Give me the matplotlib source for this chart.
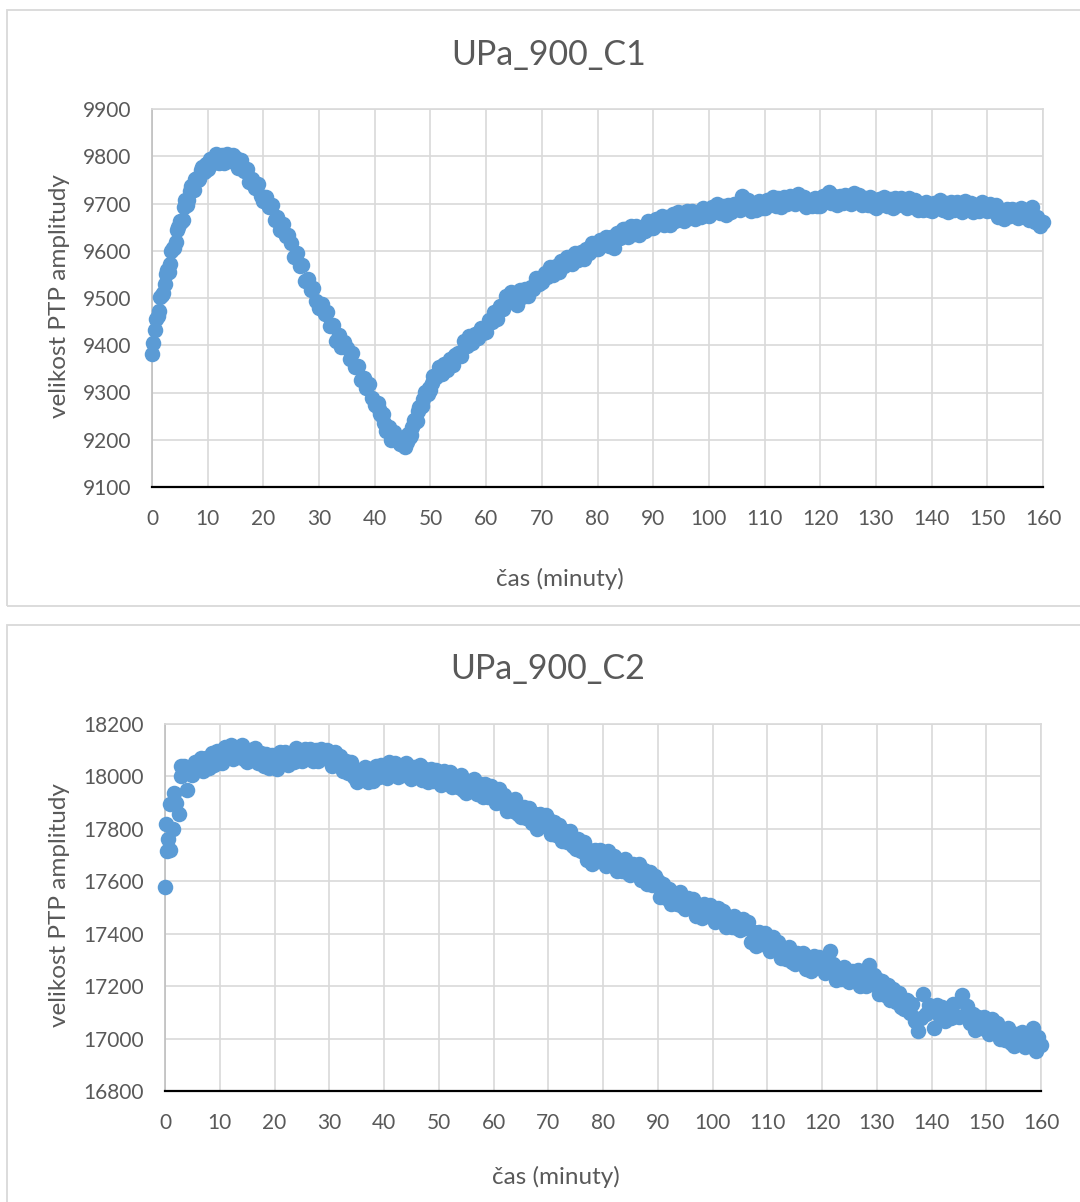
import numpy as np
import matplotlib
matplotlib.use("Agg")
import matplotlib.pyplot as plt
from matplotlib.patches import Rectangle

# ---------- data (one sample every half minute) ----------
STEP = 0.5

c1_values = [
    9382, 9433, 9461, 9503, 9510, 9550, 9556, 9599, 9606, 9644,
    9662, 9665, 9707, 9707, 9737, 9728, 9754, 9751, 9778, 9768,
    9773, 9794, 9786, 9804, 9785, 9802, 9785, 9805, 9789, 9802,
    9796, 9775, 9792, 9768, 9774, 9746, 9752, 9732, 9742, 9716,
    9705, 9713, 9692, 9697, 9665, 9672, 9644, 9656, 9632, 9634,
    9617, 9587, 9596, 9567, 9569, 9537, 9540, 9516, 9522, 9493,
    9479, 9487, 9466, 9471, 9440, 9442, 9410, 9421, 9397, 9406,
    9395, 9370, 9384, 9355, 9357, 9326, 9330, 9309, 9318, 9289,
    9274, 9278, 9254, 9254, 9218, 9226, 9200, 9217, 9199, 9190,
    9203, 9184, 9212, 9211, 9241, 9239, 9270, 9272, 9302, 9297,
    9306, 9334, 9333, 9355, 9340, 9361, 9347, 9371, 9358, 9380,
    9384, 9377, 9409, 9399, 9420, 9404, 9423, 9415, 9437, 9425,
    9429, 9454, 9450, 9471, 9456, 9483, 9476, 9504, 9496, 9512,
    9509, 9485, 9517, 9503, 9520, 9504, 9523, 9518, 9543, 9530,
    9533, 9553, 9545, 9565, 9549, 9568, 9554, 9579, 9567, 9586,
    9587, 9572, 9596, 9581, 9597, 9583, 9604, 9595, 9617, 9603,
    9603, 9622, 9613, 9630, 9611, 9629, 9606, 9637, 9626, 9645,
    9645, 9629, 9652, 9636, 9652, 9634, 9651, 9642, 9664, 9649,
    9649, 9668, 9657, 9673, 9654, 9671, 9654, 9677, 9664, 9681,
    9679, 9663, 9685, 9670, 9685, 9667, 9683, 9672, 9691, 9675,
    9673, 9692, 9682, 9699, 9679, 9694, 9676, 9696, 9681, 9700,
    9699, 9687, 9715, 9695, 9707, 9685, 9699, 9687, 9706, 9690,
    9690, 9708, 9698, 9714, 9695, 9711, 9693, 9714, 9699, 9716,
    9714, 9698, 9721, 9702, 9714, 9692, 9706, 9694, 9712, 9695,
    9694, 9716, 9709, 9725, 9701, 9716, 9696, 9716, 9701, 9718,
    9716, 9700, 9723, 9705, 9718, 9697, 9711, 9697, 9713, 9695,
    9691, 9709, 9698, 9714, 9694, 9710, 9691, 9712, 9696, 9712,
    9708, 9691, 9712, 9694, 9707, 9686, 9700, 9687, 9704, 9687,
    9684, 9702, 9691, 9707, 9686, 9701, 9682, 9703, 9687, 9703,
    9700, 9683, 9705, 9688, 9701, 9681, 9696, 9684, 9703, 9686,
    9684, 9698, 9684, 9696, 9672, 9687, 9668, 9689, 9673, 9689,
    9686, 9669, 9691, 9674, 9687, 9666, 9692, 9661, 9672, 9653,
    9660,
]

# denser samples where the C1 curve is steep
c1_extra_t = [0.25, 0.75, 1.25, 1.75, 2.25, 2.75, 3.25, 3.75, 4.25, 4.75,
              5.25, 5.75, 6.25, 6.75, 7.25, 7.75, 8.25, 8.75, 9.25, 9.75,
              40.25, 40.75, 41.25, 41.75, 42.25, 42.75, 43.25, 43.75, 44.25, 44.75,
              45.25, 45.75, 46.25, 46.75, 47.25, 47.75, 48.25, 48.75, 49.25, 49.75,
              50.25, 50.75]
c1_extra_v = [9405, 9455, 9472, 9506, 9530, 9560, 9572, 9605, 9618, 9650,
              9661, 9692, 9696, 9727, 9730, 9752, 9749, 9770, 9766, 9784,
              9276, 9266, 9250, 9236, 9224, 9214, 9210, 9204, 9200, 9193,
              9195, 9196, 9205, 9226, 9238, 9260, 9272, 9287, 9297, 9310,
              9320, 9332]

c2_values = [
    17580, 17760, 17720, 17800, 17900, 17858, 18000, 18040, 17948, 18030,
    18007, 18056, 18024, 18072, 18019, 18072, 18033, 18088, 18044, 18097,
    18096, 18052, 18114, 18074, 18118, 18065, 18109, 18073, 18120, 18066,
    18055, 18100, 18064, 18108, 18052, 18091, 18038, 18085, 18034, 18080,
    18073, 18030, 18092, 18051, 18095, 18043, 18088, 18056, 18108, 18062,
    18059, 18104, 18075, 18106, 18057, 18100, 18057, 18104, 18069, 18100,
    18093, 18039, 18092, 18042, 18078, 18019, 18057, 18014, 18056, 17996,
    17980, 18026, 17991, 18035, 17980, 18027, 17983, 18039, 17998, 18045,
    18039, 17994, 18056, 18012, 18053, 17998, 18040, 18004, 18053, 18000,
    17990, 18036, 18001, 18043, 17986, 18027, 17977, 18029, 17983, 18026,
    18016, 17966, 18022, 17977, 18017, 17958, 17996, 17958, 18005, 17948,
    17935, 17984, 17953, 17992, 17932, 17973, 17923, 17971, 17922, 17963,
    17950, 17898, 17952, 17897, 17928, 17870, 17909, 17869, 17913, 17858,
    17847, 17884, 17841, 17881, 17822, 17857, 17801, 17856, 17814, 17853,
    17838, 17779, 17827, 17778, 17815, 17755, 17793, 17750, 17791, 17736,
    17724, 17760, 17716, 17748, 17681, 17719, 17666, 17720, 17677, 17721,
    17712, 17660, 17715, 17664, 17698, 17638, 17676, 17639, 17686, 17633,
    17623, 17667, 17630, 17667, 17605, 17642, 17588, 17635, 17584, 17619,
    17600, 17541, 17589, 17537, 17570, 17512, 17552, 17514, 17561, 17507,
    17496, 17537, 17497, 17533, 17469, 17510, 17460, 17514, 17470, 17510,
    17497, 17445, 17500, 17451, 17487, 17427, 17464, 17424, 17469, 17420,
    17415, 17458, 17420, 17445, 17370, 17407, 17352, 17406, 17362, 17402,
    17388, 17335, 17389, 17337, 17370, 17306, 17340, 17302, 17348, 17294,
    17283, 17327, 17291, 17327, 17264, 17307, 17258, 17314, 17272, 17312,
    17299, 17250, 17308, 17335, 17285, 17225, 17263, 17226, 17273, 17222,
    17215, 17258, 17221, 17261, 17201, 17247, 17201, 17280, 17207, 17244,
    17228, 17170, 17218, 17168, 17203, 17148, 17190, 17139, 17173, 17121,
    17113, 17146, 17098, 17132, 17067, 17030, 17078, 17170, 17092, 17128,
    17110, 17040, 17127, 17081, 17121, 17068, 17112, 17080, 17133, 17086,
    17083, 17168, 17088, 17124, 17060, 17092, 17032, 17084, 17039, 17081,
    17070, 17019, 17074, 17024, 17060, 16997, 17032, 16994, 17040, 16983,
    16970, 17017, 16983, 17026, 16969, 17016, 16971, 17040, 16952, 17005,
    16975,
]

# a few extra points in the first minutes of C2 (the samples are denser there)
c2_extra_t = [0.1, 0.3, 1.0, 1.6, 2.9]
c2_extra_v = [17820, 17715, 17895, 17935, 18040]

titles = ["UPa_900_C1", "UPa_900_C2"]
x_label = "čas (minuty)"
y_label = "velikost PTP amplitudy"
x_ticks = list(range(0, 161, 10))
c1_yticks = list(range(9100, 9901, 100))
c2_yticks = list(range(16800, 18201, 200))

# ---------- style ----------
BLUE = "#5B9BD5"
TEXT = "#595959"
GRID = "#D9D9D9"
W, H = 1080, 1202

plt.rcParams["font.family"] = ["Lato", "DejaVu Sans"]


def fx(px):
    return px / W


def fy(py):
    return 1 - py / H


fig = plt.figure(figsize=(W / 100, H / 100), dpi=100)

# chart frames (both run off the right edge, the second also off the bottom)
fig.add_artist(Rectangle((fx(7), fy(606)), 1.2, fy(10) - fy(606),
                         transform=fig.transFigure, fill=False,
                         edgecolor=GRID, lw=1.3))
fig.add_artist(Rectangle((fx(7), fy(1260)), 1.2, fy(625) - fy(1260),
                         transform=fig.transFigure, fill=False,
                         edgecolor=GRID, lw=1.3))


def draw(ax, t, v, yticks):
    ax.scatter(t, v, s=125, color=BLUE, linewidths=0, zorder=3, clip_on=False)
    ax.set_xlim(0, 160)
    ax.set_ylim(yticks[0], yticks[-1])
    ax.set_xticks(x_ticks)
    ax.set_yticks(yticks)
    ax.grid(True, color=GRID, lw=1.2)
    ax.set_axisbelow(True)
    ax.tick_params(length=0, labelsize=15, labelcolor=TEXT)
    ax.tick_params(axis="y", pad=15)
    ax.tick_params(axis="x", pad=16)
    for side in ["top", "right"]:
        ax.spines[side].set_color(GRID)
        ax.spines[side].set_linewidth(1.2)
    ax.spines["left"].set_color("#BFBFBF")
    ax.spines["left"].set_linewidth(1.2)
    ax.spines["bottom"].set_color("black")
    ax.spines["bottom"].set_linewidth(1.6)
    ax.spines["bottom"].set_zorder(4)


# ---------- chart 1 ----------
ax1 = fig.add_axes([fx(152), fy(487), fx(1043) - fx(152), fy(109) - fy(487)])
t1 = np.arange(len(c1_values)) * STEP
draw(ax1, np.concatenate([t1, c1_extra_t]), c1_values + c1_extra_v, c1_yticks)
fig.text(fx(549), fy(55), titles[0], ha="center", va="center", fontsize=24.5, color=TEXT)
fig.text(fx(560), fy(579), x_label, ha="center", va="center", fontsize=17.5, color=TEXT)
fig.text(fx(60), fy(296), y_label, ha="center", va="center", rotation=90,
         fontsize=17.5, color=TEXT)

# ---------- chart 2 ----------
ax2 = fig.add_axes([fx(165), fy(1091), fx(1041) - fx(165), fy(724) - fy(1091)])
t2 = np.arange(len(c2_values)) * STEP
draw(ax2, np.concatenate([t2, c2_extra_t]), c2_values + c2_extra_v, c2_yticks)
fig.text(fx(548), fy(669), titles[1], ha="center", va="center", fontsize=24.5, color=TEXT)
fig.text(fx(556), fy(1177), x_label, ha="center", va="center", fontsize=17.5, color=TEXT)
fig.text(fx(60), fy(905), y_label, ha="center", va="center", rotation=90,
         fontsize=17.5, color=TEXT)

fig.savefig("out.png", dpi=100)
